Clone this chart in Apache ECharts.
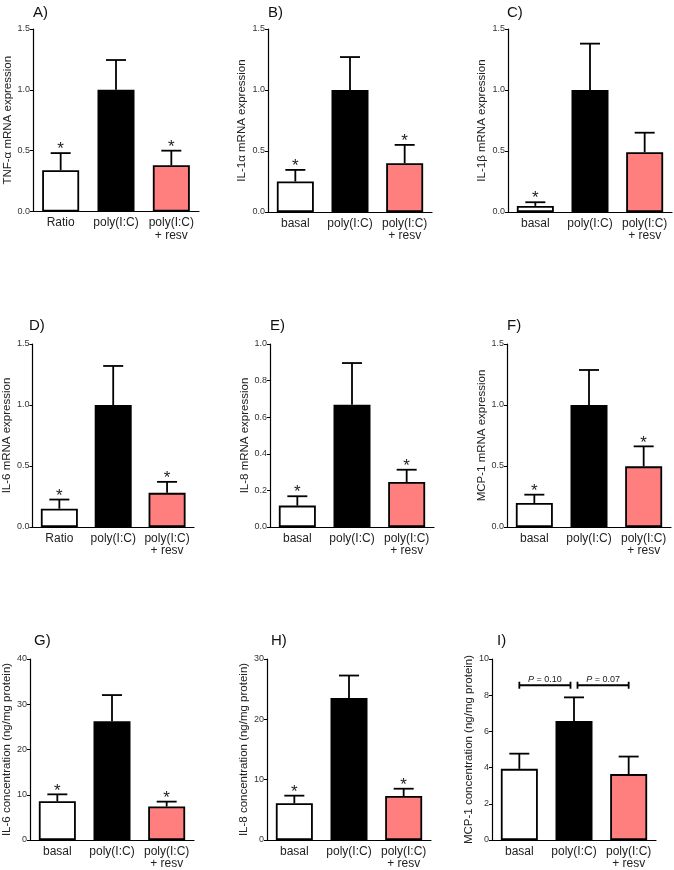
<!DOCTYPE html>
<html>
<head>
<meta charset="utf-8">
<script src="https://cdn.jsdelivr.net/npm/echarts/dist/echarts.min.js"></script>
<style>
  html, body { margin: 0; padding: 0; background: #ffffff; }
  #chart { width: 674px; height: 870px; }
</style>
</head>
<body>
<div id="chart"></div>
<script>
// ---------------- DATA ----------------
const catsRatio = ['Ratio', 'poly(I:C)', 'poly(I:C)\n+ resv'];
const catsBasal = ['basal', 'poly(I:C)', 'poly(I:C)\n+ resv'];
const barColors = ['#ffffff', '#000000', '#ff7f7f'];

const panelLetters = ['A)', 'B)', 'C)', 'D)', 'E)', 'F)', 'G)', 'H)', 'I)'];
const yTitles = [
  'TNF-α mRNA expression',
  'IL-1α mRNA expression',
  'IL-1β mRNA expression',
  'IL-6 mRNA expression',
  'IL-8 mRNA expression',
  'MCP-1 mRNA expression',
  'IL-6 concentration (ng/mg protein)',
  'IL-8 concentration (ng/mg protein)',
  'MCP-1 concentration (ng/mg protein)'
];
const yMax = [1.5, 1.5, 1.5, 1.5, 1.0, 1.5, 40, 30, 10];
const yStep = [0.5, 0.5, 0.5, 0.5, 0.2, 0.5, 10, 10, 2];
const yDecimals = [1, 1, 1, 1, 1, 1, 0, 0, 0];

const tnfaMean = [0.34, 1.00, 0.38];   const tnfaSem = [0.14, 0.245, 0.12];   const tnfaSig = [1, 0, 1];
const il1aMean = [0.25, 1.00, 0.40];   const il1aSem = [0.095, 0.27, 0.15];   const il1aSig = [1, 0, 1];
const il1bMean = [0.05, 1.00, 0.49];   const il1bSem = [0.03, 0.38, 0.16];    const il1bSig = [1, 0, 0];
const il6mMean = [0.15, 1.00, 0.28];   const il6mSem = [0.075, 0.32, 0.09];   const il6mSig = [1, 0, 1];
const il8mMean = [0.117, 0.668, 0.246]; const il8mSem = [0.051, 0.228, 0.067]; const il8mSig = [1, 0, 1];
const mcpmMean = [0.197, 1.00, 0.497]; const mcpmSem = [0.068, 0.287, 0.164]; const mcpmSig = [1, 0, 1];
const il6pMean = [8.56, 26.25, 7.39];  const il6pSem = [1.53, 5.78, 1.09];    const il6pSig = [1, 0, 1];
const il8pMean = [6.09, 23.53, 7.29];  const il8pSem = [1.26, 3.73, 1.21];    const il8pSig = [1, 0, 1];
const mcppMean = [3.93, 6.58, 3.64];   const mcppSem = [0.84, 1.30, 0.97];    const mcppSig = [0, 0, 0];

// brackets in panel I: [from category, to category, y value]
const iBrackets = [[0, 1, 8.55], [1, 2, 8.55]];
const iBracketP = ['0.10', '0.07'];

const panelCats = [catsRatio, catsBasal, catsBasal, catsRatio, catsBasal, catsBasal, catsBasal, catsBasal, catsBasal];
const panelMeans = [tnfaMean, il1aMean, il1bMean, il6mMean, il8mMean, mcpmMean, il6pMean, il8pMean, mcppMean];
const panelSems = [tnfaSem, il1aSem, il1bSem, il6mSem, il8mSem, mcpmSem, il6pSem, il8pSem, mcppSem];
const panelSigs = [tnfaSig, il1aSig, il1bSig, il6mSig, il8mSig, mcpmSig, il6pSig, il8pSig, mcppSig];

// ---------------- LAYOUT ----------------
const FONT = "'Liberation Sans', Arial, sans-serif";
const gridBoxes = [
  { left: 33,  top: 29,  width: 166, height: 182.5 },
  { left: 268, top: 29,  width: 164, height: 183 },
  { left: 508, top: 29,  width: 164, height: 183 },
  { left: 30,  top: 344, width: 164, height: 183 },
  { left: 270, top: 344, width: 164, height: 183 },
  { left: 507, top: 344, width: 164, height: 183 },
  { left: 30,  top: 659, width: 164, height: 183 },
  { left: 267, top: 659, width: 164, height: 183 },
  { left: 492, top: 659, width: 164, height: 183 }
];
const titlePos = [
  [28, 0], [263, 0], [502, 0],
  [24, 313], [265, 313], [502, 313],
  [29, 628], [266, 628], [492, 628]
];
const nameGaps = [18, 20, 20, 16, 17, 19, 16, 17, 17];

const grids = [], xAxes = [], yAxes = [], series = [], titles = [];

panelMeans.forEach((means, p) => {
  const g = gridBoxes[p];
  grids.push({ left: g.left, top: g.top, width: g.width, height: g.height, containLabel: false });
  titles.push({
    text: panelLetters[p], left: titlePos[p][0], top: titlePos[p][1],
    textStyle: { fontFamily: FONT, fontSize: 15, fontWeight: 'normal', color: '#111' }
  });
  xAxes.push({
    type: 'category', gridIndex: p, data: panelCats[p],
    axisLine: { show: true, lineStyle: { color: '#000', width: 1.2 } },
    axisTick: { show: false },
    axisLabel: { interval: 0, fontFamily: FONT, fontSize: 12, color: '#222', margin: 5, lineHeight: 12.5 },
    splitLine: { show: false }
  });
  const dec = yDecimals[p];
  yAxes.push({
    type: 'value', gridIndex: p, min: 0, max: yMax[p], interval: yStep[p],
    name: yTitles[p], nameLocation: 'middle', nameGap: nameGaps[p],
    nameTextStyle: { fontFamily: FONT, fontSize: 11.5, color: '#222' },
    axisLine: { show: true, lineStyle: { color: '#000', width: 1.2 } },
    axisTick: { show: true, length: 3, lineStyle: { color: '#000', width: 1 } },
    axisLabel: { fontFamily: FONT, fontSize: 9, color: '#333', margin: 3,
      formatter: v => Number(v).toFixed(dec) },
    splitLine: { show: false }
  });
  series.push({
    type: 'bar', xAxisIndex: p, yAxisIndex: p, barWidth: 37,
    data: means.map((m, i) => ({ value: m, itemStyle: { color: barColors[i] } })),
    itemStyle: { borderColor: '#000', borderWidth: 1.8 },
    silent: true, animation: false, z: 2
  });
  const sems = panelSems[p], sigs = panelSigs[p];
  series.push({
    type: 'custom', xAxisIndex: p, yAxisIndex: p, coordinateSystem: 'cartesian2d',
    data: means.map((m, i) => [i, m, m + sems[i], sigs[i]]),
    encode: { x: 0, y: [1, 2] },
    animation: false, silent: true, z: 5, clip: false,
    renderItem: (params, api) => {
      const c = api.value(0), m = api.value(1), u = api.value(2), s = api.value(3);
      const p0 = api.coord([c, m]);
      const p1 = api.coord([c, u]);
      const st = { stroke: '#000', lineWidth: 1.8, fill: null };
      const children = [
        { type: 'line', shape: { x1: p0[0], y1: p0[1], x2: p1[0], y2: p1[1] }, style: st },
        { type: 'line', shape: { x1: p1[0] - 10, y1: p1[1], x2: p1[0] + 10, y2: p1[1] }, style: st }
      ];
      if (s) {
        children.push({ type: 'text', style: { text: '*', x: p1[0], y: p1[1] - 3.5,
          textAlign: 'center', textVerticalAlign: 'middle', fontFamily: FONT, fontSize: 17, fill: '#222' } });
      }
      return { type: 'group', children };
    }
  });
});

// brackets in panel I
series.push({
  type: 'custom', xAxisIndex: 8, yAxisIndex: 8, coordinateSystem: 'cartesian2d',
  data: iBrackets, encode: { x: [0, 1], y: 2 },
  animation: false, silent: true, z: 6, clip: false,
  renderItem: (params, api) => {
    const i = params.dataIndex;
    const from = api.value(0), to = api.value(1), y = api.value(2);
    const a = api.coord([from, y]), b = api.coord([to, y]);
    const gap = 3.5;
    const x1 = a[0] + ((i > 0 && iBrackets[i - 1][1] === from) ? gap : 0);
    const x2 = b[0] - ((i < iBrackets.length - 1 && iBrackets[i + 1][0] === to) ? gap : 0);
    const st = { stroke: '#000', lineWidth: 1.8, fill: null };
    return { type: 'group', children: [
      { type: 'line', shape: { x1: x1, y1: a[1], x2: x2, y2: a[1] }, style: st },
      { type: 'line', shape: { x1: x1, y1: a[1] - 3.5, x2: x1, y2: a[1] + 3.5 }, style: st },
      { type: 'line', shape: { x1: x2, y1: a[1] - 3.5, x2: x2, y2: a[1] + 3.5 }, style: st },
      { type: 'text', style: {
          text: '{i|P} = ' + iBracketP[i], x: (x1 + x2) / 2, y: a[1] - 1.5,
          textAlign: 'center', textVerticalAlign: 'bottom', fontFamily: FONT, fontSize: 9, fill: '#222',
          rich: { i: { fontStyle: 'italic', fontFamily: FONT, fontSize: 9, fill: '#222' } } } }
    ] };
  }
});

const chart = echarts.init(document.getElementById('chart'), null, { renderer: 'canvas' });
chart.setOption({
  backgroundColor: '#ffffff',
  animation: false,
  title: titles,
  grid: grids,
  xAxis: xAxes,
  yAxis: yAxes,
  series: series
});
</script>
</body>
</html>
